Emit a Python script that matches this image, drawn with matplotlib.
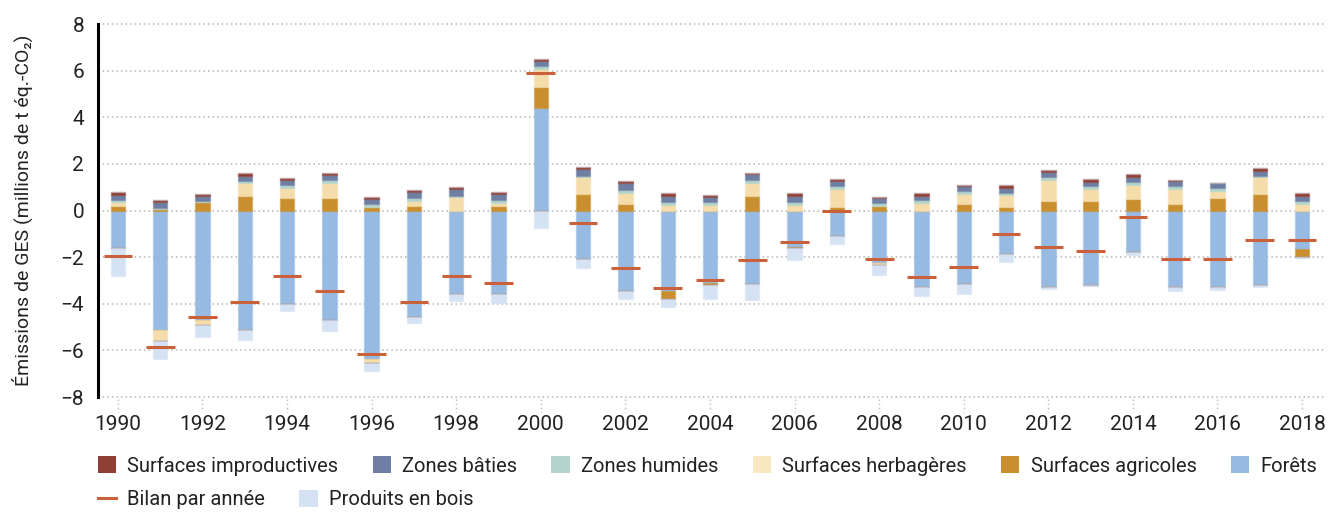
import numpy as np
import matplotlib.pyplot as plt
import matplotlib.transforms as mtransforms
from matplotlib.patches import Patch
from matplotlib.lines import Line2D
from matplotlib.colors import to_rgba

plt.rcParams['font.family'] = ['Roboto', 'DejaVu Sans']

years = np.arange(1990, 2019)

# Emissions per land category, millions of t eq.-CO2
improductives = [0.13, 0.07, 0.07, 0.11, 0.11, 0.09, 0.07, 0.09, 0.11, 0.11,
                 0.10, 0.11, 0.11, 0.13, 0.11, 0.07, 0.11, 0.11, 0.06, 0.11,
                 0.07, 0.14, 0.11, 0.11, 0.11, 0.06, 0.04, 0.11, 0.13]
baties = [0.20, 0.26, 0.23, 0.23, 0.20, 0.24, 0.24, 0.26, 0.29, 0.24,
          0.20, 0.27, 0.29, 0.27, 0.20, 0.26, 0.27, 0.20, 0.20, 0.19,
          0.19, 0.20, 0.21, 0.20, 0.21, 0.20, 0.21, 0.20, 0.21]
humides = [0.11, 0.06, 0.04, 0.10, 0.11, 0.13, 0.10, 0.13, 0.06, 0.12,
           0.14, 0.04, 0.11, 0.13, 0.13, 0.13, 0.13, 0.13, 0.13, 0.14,
           0.13, 0.11, 0.13, 0.13, 0.13, 0.13, 0.11, 0.07, 0.13]
herbageres = [0.14, -0.47, -0.19, 0.54, 0.44, 0.63, -0.20, 0.21, 0.57, 0.12,
              0.76, 0.77, 0.47, 0.24, 0.24, 0.54, 0.24, 0.76, -0.07, 0.31,
              0.43, 0.49, 0.89, 0.50, 0.60, 0.63, 0.30, 0.74, 0.30]
agricoles = [0.21, 0.06, 0.37, 0.63, 0.54, 0.54, 0.16, 0.21, 0.0, 0.21,
             0.90, 0.69, 0.30, -0.33, -0.10, 0.63, -0.04, 0.16, 0.21, 0.0,
             0.29, 0.16, 0.41, 0.41, 0.50, 0.29, 0.54, 0.69, -0.31]
forets = [-1.60, -5.11, -4.71, -5.11, -4.00, -4.71, -6.36, -4.57, -3.59, -3.59,
          4.41, -2.07, -3.46, -3.46, -3.09, -3.14, -1.57, -1.09, -2.26, -3.29,
          -3.14, -1.86, -3.27, -3.19, -1.80, -3.30, -3.30, -3.19, -1.67]
produits_bois = [-1.20, -0.79, -0.54, -0.46, -0.33, -0.47, -0.34, -0.26, -0.31, -0.39,
                 -0.76, -0.40, -0.33, -0.33, -0.60, -0.71, -0.53, -0.33, -0.43, -0.37,
                 -0.46, -0.36, -0.11, -0.03, -0.09, -0.17, -0.09, -0.07, -0.06]
bilan = [-1.96, -5.86, -4.57, -3.93, -2.81, -3.46, -6.16, -3.93, -2.81, -3.11,
         5.89, -0.54, -2.47, -3.33, -2.99, -2.13, -1.36, -0.03, -2.09, -2.86,
         -2.43, -1.01, -1.57, -1.74, -0.29, -2.09, -2.09, -1.27, -1.27]

# stacking order, from zero outwards
series = [
    ("Forêts", forets, "#97bae3"),
    ("Surfaces agricoles", agricoles, "#c98e2d"),
    ("Surfaces herbagères", herbageres, "#f5ddab"),
    ("Zones humides", humides, "#b2d4cb"),
    ("Zones bâties", baties, "#6e7fa3"),
    ("Surfaces improductives", improductives, "#8f3e33"),
    ("Produits en bois", produits_bois, "#d5e2f4"),
]
bilan_color = "#c9623a"

fig = plt.figure(figsize=(13.28, 5.12), dpi=100)
ax = fig.add_axes([0.0738, 0.2246, 0.9242, 0.7284])

width = 0.34
pos_base = np.zeros(len(years))
neg_base = np.zeros(len(years))
for name, vals, col in series:
    v = np.array(vals)
    pos = np.where(v > 0, v, 0)
    neg = np.where(v < 0, v, 0)
    ax.bar(years, pos, width, bottom=pos_base, color=col,
           edgecolor=to_rgba(col, 0.45), linewidth=1, zorder=3)
    ax.bar(years, neg, width, bottom=neg_base, color=col,
           edgecolor=to_rgba(col, 0.45), linewidth=1, zorder=3)
    pos_base += pos
    neg_base += neg

ax.hlines(bilan, years - 0.34, years + 0.34, color=bilan_color, lw=2.2, zorder=4)

ax.set_xlim(1989.53, 2018.55)
ax.set_ylim(-8, 8)
ax.set_yticks(np.arange(-8, 9, 2))
ax.set_yticklabels([str(t).replace('-', '\u2212') for t in range(-8, 9, 2)])
ax.set_xticks(np.arange(1990, 2019, 2))
ax.tick_params(axis='both', length=0, labelsize=15, colors='#222222')
ax.tick_params(axis='x', pad=13)
ax.tick_params(axis='y', pad=10)

for s in ['top', 'right', 'bottom']:
    ax.spines[s].set_visible(False)
ax.spines['left'].set_linewidth(2.2)
ax.spines['left'].set_color('black')

for yv in range(-8, 9, 2):
    ax.axhline(yv, color='#b5b5b5', lw=1.1, ls=(0, (1, 2)), zorder=1, clip_on=False)

# small dotted tick marks under the axis
trans = mtransforms.blended_transform_factory(ax.transData, ax.transAxes)
for yr in range(1990, 2019, 2):
    ax.plot([yr, yr], [-0.005, -0.04], transform=trans, color='#bbbbbb',
            lw=1, ls=(0, (1, 2)), clip_on=False)

ax.set_ylabel("Émissions de GES (millions de t éq.-CO\u2082)", fontsize=14,
              color='#222222', labelpad=20)

h1 = [Patch(facecolor=c, edgecolor='none') for c in
      ["#8f3e33", "#6e7fa3", "#b2d4cb", "#f8e8c2", "#c98e2d", "#97bae3"]]
l1 = ["Surfaces improductives", "Zones bâties", "Zones humides",
      "Surfaces herbagères", "Surfaces agricoles", "Forêts"]
fig.legend(h1, l1, ncol=6, loc='center left', bbox_to_anchor=(0.066, 0.09),
           frameon=False, fontsize=14.5, handlelength=0.92, handleheight=0.92,
           handletextpad=0.55, columnspacing=1.7, borderpad=0, labelcolor='#222222')
h2 = [Line2D([0], [0], color=bilan_color, lw=2.2),
      Patch(facecolor="#d5e2f4", edgecolor='none')]
l2 = ["Bilan par année", "Produits en bois"]
fig.legend(h2, l2, ncol=2, loc='center left', bbox_to_anchor=(0.066, 0.024),
           frameon=False, fontsize=14.5, handlelength=0.92, handleheight=0.92,
           handletextpad=0.55, columnspacing=1.7, borderpad=0, labelcolor='#222222')

fig.savefig("out.png", dpi=100)
